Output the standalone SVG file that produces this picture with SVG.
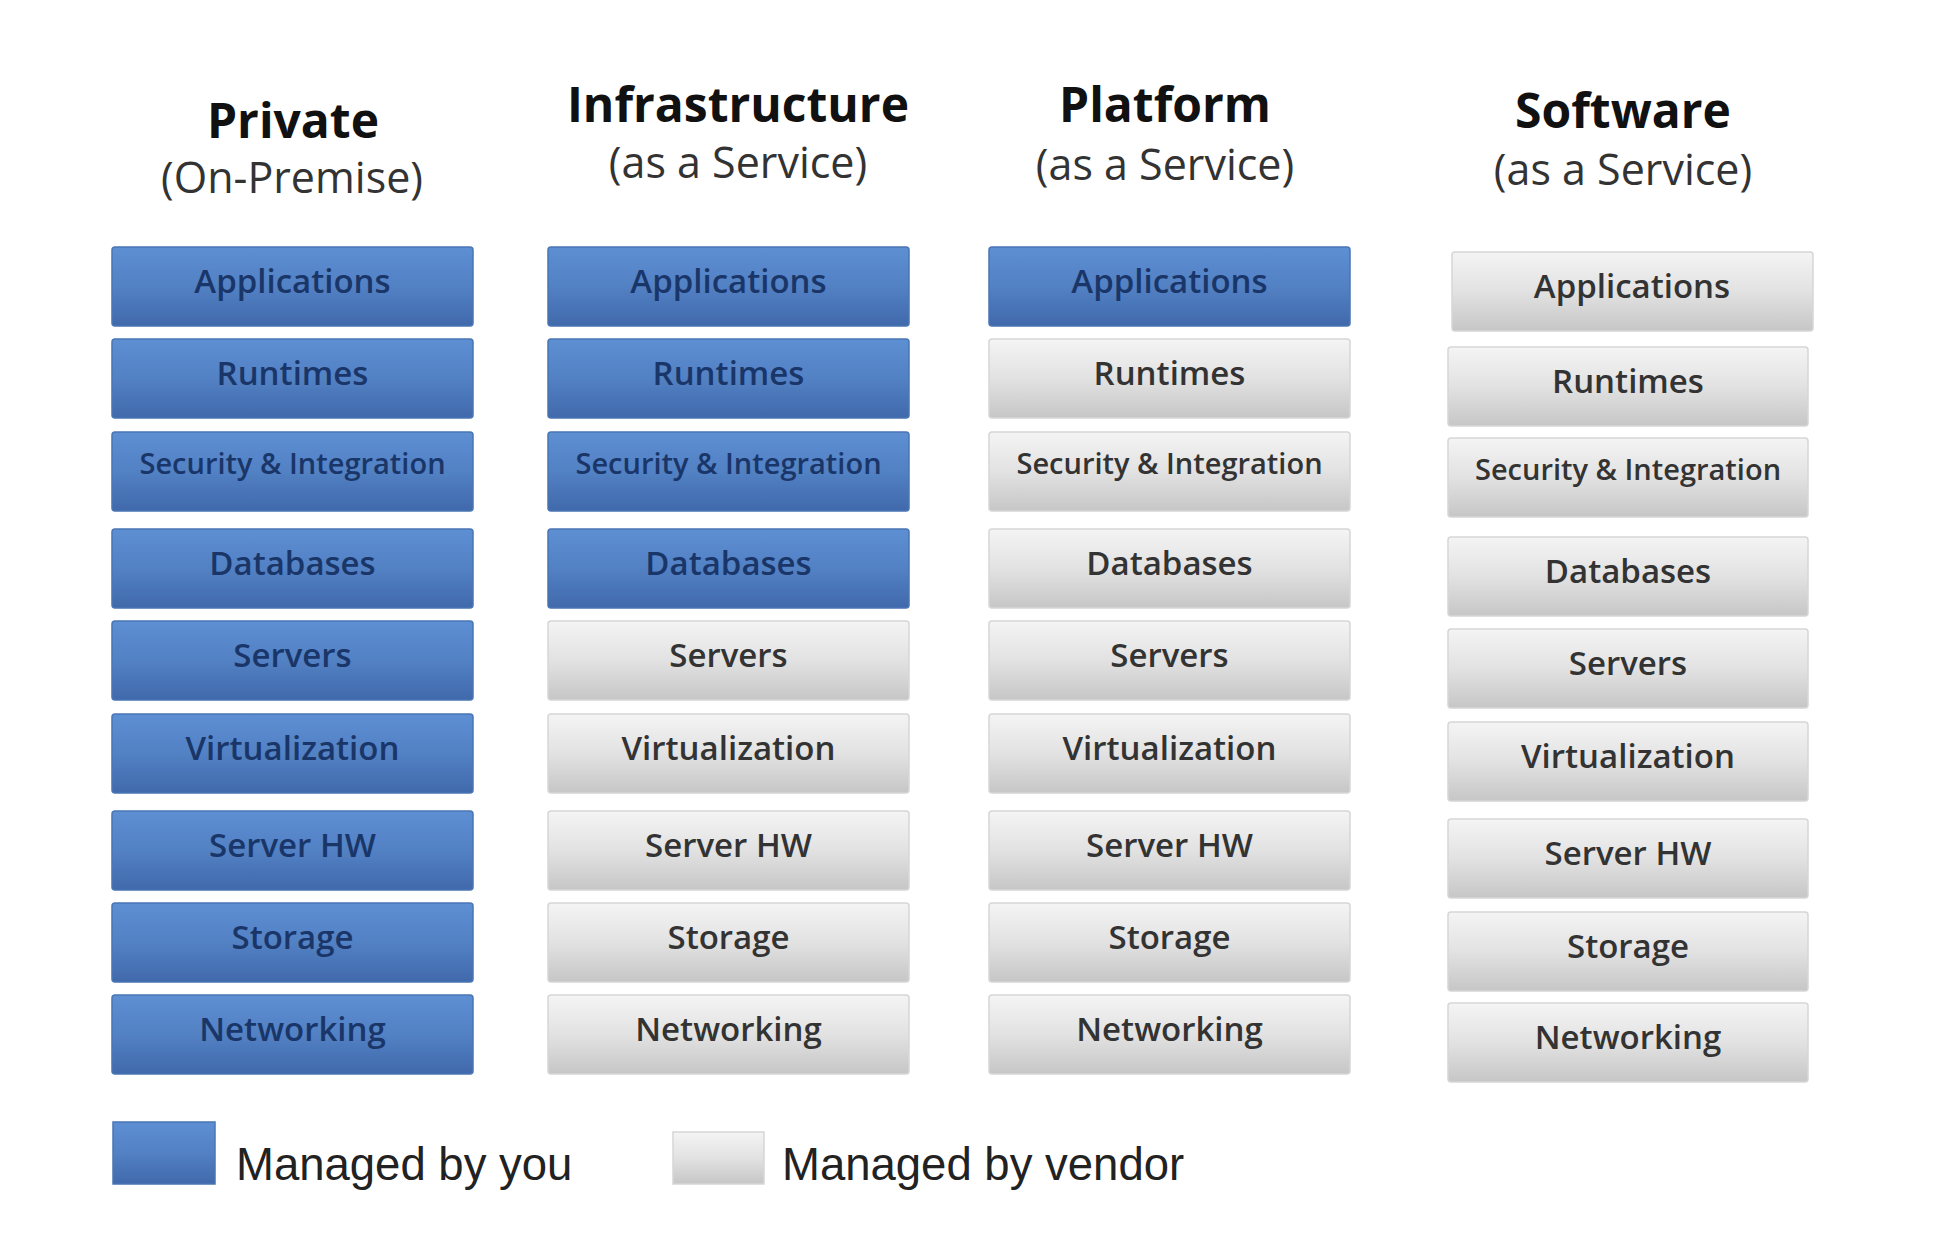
<svg xmlns="http://www.w3.org/2000/svg" width="1956" height="1258" viewBox="0 0 1956 1258">
<defs>
<linearGradient id="gBlue" x1="0" y1="0" x2="0" y2="1">
<stop offset="0" stop-color="#5d8fd2"/>
<stop offset="0.5" stop-color="#5281c4"/>
<stop offset="1" stop-color="#4069ab"/>
</linearGradient>
<linearGradient id="gGray" x1="0" y1="0" x2="0" y2="1">
<stop offset="0" stop-color="#f4f4f4"/>
<stop offset="0.5" stop-color="#e2e2e2"/>
<stop offset="1" stop-color="#c6c6c6"/>
</linearGradient>
<style>
.b{fill:url(#gBlue);stroke:#4a76b4;stroke-width:1.5}
.g{fill:url(#gGray);stroke:#d6d6d6;stroke-width:1.5}
.lb{font-family:"Open Sans","Noto Sans",sans-serif;font-size:33px;font-weight:600;fill:#1a3668;text-anchor:middle}
.lg{font-family:"Open Sans","Noto Sans",sans-serif;font-size:33px;font-weight:600;fill:#333333;text-anchor:middle}
.sm{font-size:29px}
.t{font-family:"Open Sans","Noto Sans",sans-serif;font-size:48px;font-weight:bold;fill:#111;text-anchor:middle}
.s{font-family:"Open Sans","Noto Sans",sans-serif;font-size:43px;fill:#333;text-anchor:middle}
.leg{font-family:"Liberation Sans",Arial,sans-serif;font-size:45.5px;fill:#222}
</style>
</defs>
<rect width="1956" height="1258" fill="#ffffff"/>

<g id="titles">
<text class="t" x="293" y="138">Private</text>
<text class="s" x="292" y="193">(On-Premise)</text>
<text class="t" x="738" y="122">Infrastructure</text>
<text class="s" x="738" y="178">(as a Service)</text>
<text class="t" x="1165" y="122">Platform</text>
<text class="s" x="1165" y="180">(as a Service)</text>
<text class="t" x="1623" y="128">Software</text>
<text class="s" x="1623" y="185">(as a Service)</text>
</g>

<g id="col-private">
<g id="p-apps"><rect class="b" x="112" y="247" width="361" height="79" rx="3"/><text class="lb" x="292.5" y="293">Applications</text></g>
<g id="p-runtimes"><rect class="b" x="112" y="339" width="361" height="79" rx="3"/><text class="lb" x="292.5" y="385">Runtimes</text></g>
<g id="p-security"><rect class="b" x="112" y="432" width="361" height="79" rx="3"/><text class="lb sm" x="292.5" y="474">Security &amp; Integration</text></g>
<g id="p-databases"><rect class="b" x="112" y="529" width="361" height="79" rx="3"/><text class="lb" x="292.5" y="575">Databases</text></g>
<g id="p-servers"><rect class="b" x="112" y="621" width="361" height="79" rx="3"/><text class="lb" x="292.5" y="667">Servers</text></g>
<g id="p-virt"><rect class="b" x="112" y="714" width="361" height="79" rx="3"/><text class="lb" x="292.5" y="760">Virtualization</text></g>
<g id="p-serverhw"><rect class="b" x="112" y="811" width="361" height="79" rx="3"/><text class="lb" x="292.5" y="857">Server HW</text></g>
<g id="p-storage"><rect class="b" x="112" y="903" width="361" height="79" rx="3"/><text class="lb" x="292.5" y="949">Storage</text></g>
<g id="p-networking"><rect class="b" x="112" y="995" width="361" height="79" rx="3"/><text class="lb" x="292.5" y="1041">Networking</text></g>
</g>

<g id="col-iaas">
<g id="i-apps"><rect class="b" x="548" y="247" width="361" height="79" rx="3"/><text class="lb" x="728.5" y="293">Applications</text></g>
<g id="i-runtimes"><rect class="b" x="548" y="339" width="361" height="79" rx="3"/><text class="lb" x="728.5" y="385">Runtimes</text></g>
<g id="i-security"><rect class="b" x="548" y="432" width="361" height="79" rx="3"/><text class="lb sm" x="728.5" y="474">Security &amp; Integration</text></g>
<g id="i-databases"><rect class="b" x="548" y="529" width="361" height="79" rx="3"/><text class="lb" x="728.5" y="575">Databases</text></g>
<g id="i-servers"><rect class="g" x="548" y="621" width="361" height="79" rx="3"/><text class="lg" x="728.5" y="667">Servers</text></g>
<g id="i-virt"><rect class="g" x="548" y="714" width="361" height="79" rx="3"/><text class="lg" x="728.5" y="760">Virtualization</text></g>
<g id="i-serverhw"><rect class="g" x="548" y="811" width="361" height="79" rx="3"/><text class="lg" x="728.5" y="857">Server HW</text></g>
<g id="i-storage"><rect class="g" x="548" y="903" width="361" height="79" rx="3"/><text class="lg" x="728.5" y="949">Storage</text></g>
<g id="i-networking"><rect class="g" x="548" y="995" width="361" height="79" rx="3"/><text class="lg" x="728.5" y="1041">Networking</text></g>
</g>

<g id="col-paas">
<g id="pa-apps"><rect class="b" x="989" y="247" width="361" height="79" rx="3"/><text class="lb" x="1169.5" y="293">Applications</text></g>
<g id="pa-runtimes"><rect class="g" x="989" y="339" width="361" height="79" rx="3"/><text class="lg" x="1169.5" y="385">Runtimes</text></g>
<g id="pa-security"><rect class="g" x="989" y="432" width="361" height="79" rx="3"/><text class="lg sm" x="1169.5" y="474">Security &amp; Integration</text></g>
<g id="pa-databases"><rect class="g" x="989" y="529" width="361" height="79" rx="3"/><text class="lg" x="1169.5" y="575">Databases</text></g>
<g id="pa-servers"><rect class="g" x="989" y="621" width="361" height="79" rx="3"/><text class="lg" x="1169.5" y="667">Servers</text></g>
<g id="pa-virt"><rect class="g" x="989" y="714" width="361" height="79" rx="3"/><text class="lg" x="1169.5" y="760">Virtualization</text></g>
<g id="pa-serverhw"><rect class="g" x="989" y="811" width="361" height="79" rx="3"/><text class="lg" x="1169.5" y="857">Server HW</text></g>
<g id="pa-storage"><rect class="g" x="989" y="903" width="361" height="79" rx="3"/><text class="lg" x="1169.5" y="949">Storage</text></g>
<g id="pa-networking"><rect class="g" x="989" y="995" width="361" height="79" rx="3"/><text class="lg" x="1169.5" y="1041">Networking</text></g>
</g>

<g id="col-saas">
<g id="s-apps"><rect class="g" x="1452" y="252" width="361" height="79" rx="3"/><text class="lg" x="1632" y="298">Applications</text></g>
<g id="s-runtimes"><rect class="g" x="1448" y="347" width="360" height="79" rx="3"/><text class="lg" x="1628" y="393">Runtimes</text></g>
<g id="s-security"><rect class="g" x="1448" y="438" width="360" height="79" rx="3"/><text class="lg sm" x="1628" y="480">Security &amp; Integration</text></g>
<g id="s-databases"><rect class="g" x="1448" y="537" width="360" height="79" rx="3"/><text class="lg" x="1628" y="583">Databases</text></g>
<g id="s-servers"><rect class="g" x="1448" y="629" width="360" height="79" rx="3"/><text class="lg" x="1628" y="675">Servers</text></g>
<g id="s-virt"><rect class="g" x="1448" y="722" width="360" height="79" rx="3"/><text class="lg" x="1628" y="768">Virtualization</text></g>
<g id="s-serverhw"><rect class="g" x="1448" y="819" width="360" height="79" rx="3"/><text class="lg" x="1628" y="865">Server HW</text></g>
<g id="s-storage"><rect class="g" x="1448" y="912" width="360" height="79" rx="3"/><text class="lg" x="1628" y="958">Storage</text></g>
<g id="s-networking"><rect class="g" x="1448" y="1003" width="360" height="79" rx="3"/><text class="lg" x="1628" y="1049">Networking</text></g>
</g>

<g id="connectors"></g>

<g id="legend">
<g id="legend-you"><rect class="b" x="113" y="1122" width="102" height="62"/><text class="leg" x="236" y="1180">Managed by you</text></g>
<g id="legend-vendor"><rect class="g" x="673" y="1132" width="91" height="52"/><text class="leg" x="782" y="1180">Managed by vendor</text></g>
</g>
</svg>
